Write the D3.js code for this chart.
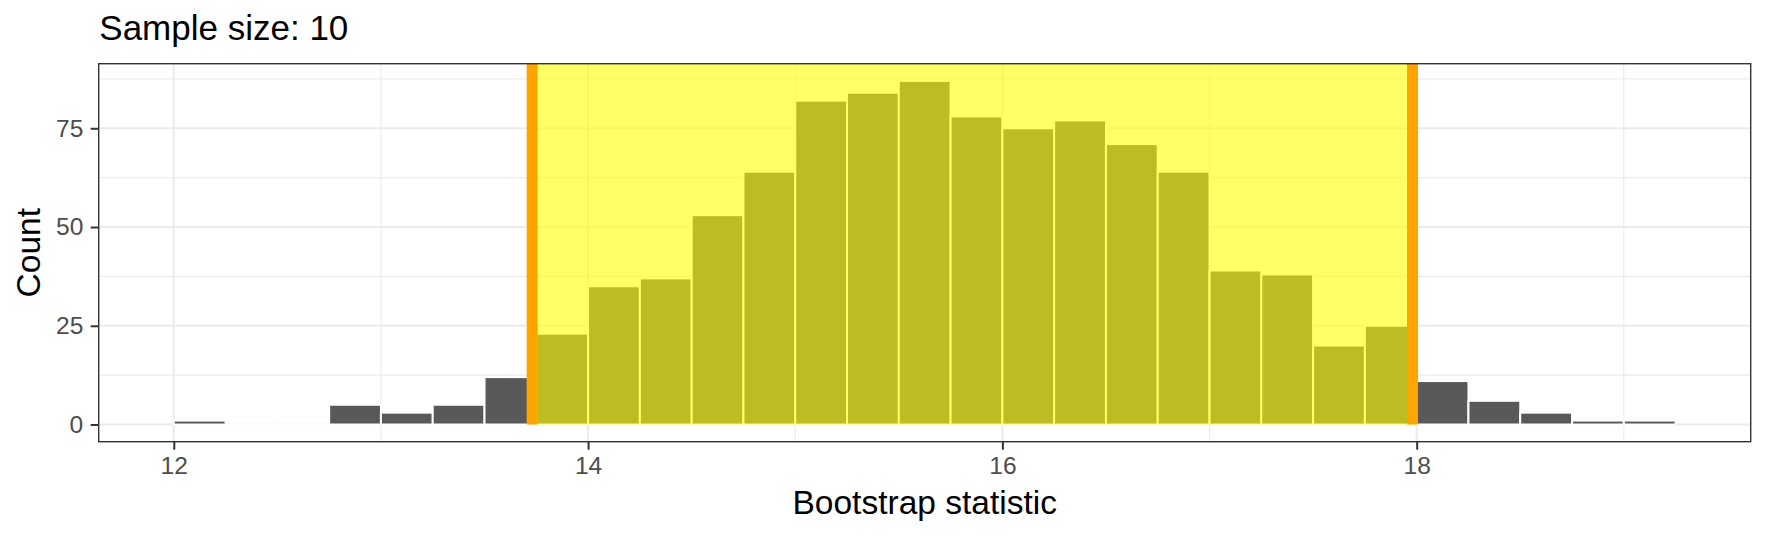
<!DOCTYPE html>
<html>
<head>
<meta charset="utf-8">
<script src="https://cdn.jsdelivr.net/npm/d3@7/dist/d3.min.js"></script>
<style>
  html, body { margin: 0; padding: 0; background: #ffffff; }
  svg { display: block; font-family: "Liberation Sans", Arial, Helvetica, sans-serif; }
</style>
</head>
<body>
<svg id="chart" width="1766" height="537"></svg>
<script>
// ---- data ----
const binStarts = [12.00, 12.25, 12.50, 12.75, 13.00, 13.25, 13.50, 13.75, 14.00, 14.25,
                   14.50, 14.75, 15.00, 15.25, 15.50, 15.75, 16.00, 16.25, 16.50, 16.75,
                   17.00, 17.25, 17.50, 17.75, 18.00, 18.25, 18.50, 18.75, 19.00];
const binWidth = 0.25;
const counts = [1, 0, 0, 5, 3, 5, 12, 23, 35, 37,
                53, 64, 82, 84, 87, 78, 75, 77, 71, 64,
                39, 38, 20, 25, 11, 6, 3, 1, 1];
const ciEndpoints = [13.73, 17.98];
const xMajorTicks = [12, 14, 16, 18];
const xMinorTicks = [13, 15, 17, 19];
const yMajorTicks = [0, 25, 50, 75];
const yMinorTicks = [12.5, 37.5, 62.5, 87.5];
const titleText = "Sample size: 10";
const xTitle = "Bootstrap statistic";
const yTitle = "Count";

// ---- layout ----
const W = 1766, H = 537;
const panel = { left: 98.7, right: 1750.7, top: 63.7, bottom: 441.7 };

const bins = binStarts.map((s, i) => ({ x0: s, x1: s + binWidth, n: counts[i] }));
const xMin = d3.min(bins, d => d.x0), xMax = d3.max(bins, d => d.x1);
const xPad = (xMax - xMin) * 0.05;
const yMaxV = d3.max(counts);
const yPad = yMaxV * 0.05;

const x = d3.scaleLinear().domain([xMin - xPad, xMax + xPad]).range([panel.left, panel.right]);
const y = d3.scaleLinear().domain([-yPad, yMaxV + yPad]).range([panel.bottom, panel.top]);

const svg = d3.select("#chart");

svg.append("defs").append("clipPath").attr("id", "pclip")
  .append("rect")
  .attr("x", panel.left).attr("y", panel.top)
  .attr("width", panel.right - panel.left).attr("height", panel.bottom - panel.top);

svg.append("rect").attr("x", 0).attr("y", 0).attr("width", W).attr("height", H).attr("fill", "#ffffff");

const g = svg.append("g").attr("clip-path", "url(#pclip)");
g.append("rect")
  .attr("x", panel.left).attr("y", panel.top)
  .attr("width", panel.right - panel.left).attr("height", panel.bottom - panel.top)
  .attr("fill", "#ffffff");

// minor grid
g.selectAll(".gxm").data(xMinorTicks).join("line")
  .attr("x1", d => x(d)).attr("x2", d => x(d))
  .attr("y1", panel.top).attr("y2", panel.bottom)
  .attr("stroke", "#EBEBEB").attr("stroke-width", 1.1);
g.selectAll(".gym").data(yMinorTicks).join("line")
  .attr("x1", panel.left).attr("x2", panel.right)
  .attr("y1", d => y(d)).attr("y2", d => y(d))
  .attr("stroke", "#EBEBEB").attr("stroke-width", 1.1);
// major grid
g.selectAll(".gxM").data(xMajorTicks).join("line")
  .attr("x1", d => x(d)).attr("x2", d => x(d))
  .attr("y1", panel.top).attr("y2", panel.bottom)
  .attr("stroke", "#EBEBEB").attr("stroke-width", 2.1);
g.selectAll(".gyM").data(yMajorTicks).join("line")
  .attr("x1", panel.left).attr("x2", panel.right)
  .attr("y1", d => y(d)).attr("y2", d => y(d))
  .attr("stroke", "#EBEBEB").attr("stroke-width", 2.1);

// bars (non-empty bins as rects, empty bins as white outline)
g.selectAll(".bar").data(bins.filter(d => d.n > 0)).join("rect")
  .attr("x", d => x(d.x0)).attr("width", d => x(d.x1) - x(d.x0))
  .attr("y", d => y(d.n)).attr("height", d => y(0) - y(d.n))
  .attr("fill", "#595959")
  .attr("stroke", "#ffffff").attr("stroke-width", 2);
g.selectAll(".emptybar").data(bins.filter(d => d.n === 0)).join("line")
  .attr("x1", d => x(d.x0)).attr("x2", d => x(d.x1))
  .attr("y1", y(0)).attr("y2", y(0))
  .attr("stroke", "#ffffff").attr("stroke-width", 2.2);

// shaded CI
g.append("rect")
  .attr("x", x(ciEndpoints[0])).attr("width", x(ciEndpoints[1]) - x(ciEndpoints[0]))
  .attr("y", panel.top - 5).attr("height", y(0) - panel.top + 5)
  .attr("fill", "#FFFF00").attr("fill-opacity", 0.6);

// CI endpoints
g.selectAll(".ci").data(ciEndpoints).join("line")
  .attr("x1", d => x(d)).attr("x2", d => x(d))
  .attr("y1", y(0)).attr("y2", panel.top - 5)
  .attr("stroke", "#FFA500").attr("stroke-width", 11);

// panel border
svg.append("rect")
  .attr("x", panel.left).attr("y", panel.top)
  .attr("width", panel.right - panel.left).attr("height", panel.bottom - panel.top)
  .attr("fill", "none").attr("stroke", "#333333").attr("stroke-width", 1.4);

// axes
const xAxis = svg.append("g").attr("transform", `translate(0,${panel.bottom})`)
  .call(d3.axisBottom(x).tickValues(xMajorTicks).tickSize(8).tickPadding(7.3).tickFormat(d3.format("d")));
const yAxis = svg.append("g").attr("transform", `translate(${panel.left},0)`)
  .call(d3.axisLeft(y).tickValues(yMajorTicks).tickSize(8).tickPadding(7.4).tickFormat(d3.format("d")));
[xAxis, yAxis].forEach(a => {
  a.select(".domain").remove();
  a.selectAll(".tick line").attr("stroke", "#333333").attr("stroke-width", 2);
  a.selectAll(".tick text").attr("fill", "#4D4D4D")
    .style("font-size", "24.6px")
    .style("font-family", "'Liberation Sans', Arial, Helvetica, sans-serif");
});

// titles
svg.append("text").attr("x", 99.3).attr("y", 40)
  .attr("fill", "#000000").style("font-size", "35px").text(titleText);
svg.append("text").attr("x", (panel.left + panel.right) / 2).attr("y", 514)
  .attr("text-anchor", "middle").attr("fill", "#000000").style("font-size", "33.5px").text(xTitle);
svg.append("text")
  .attr("transform", `translate(40,${(panel.top + panel.bottom) / 2}) rotate(-90)`)
  .attr("text-anchor", "middle").attr("fill", "#000000").style("font-size", "33.5px").text(yTitle);
</script>
</body>
</html>
